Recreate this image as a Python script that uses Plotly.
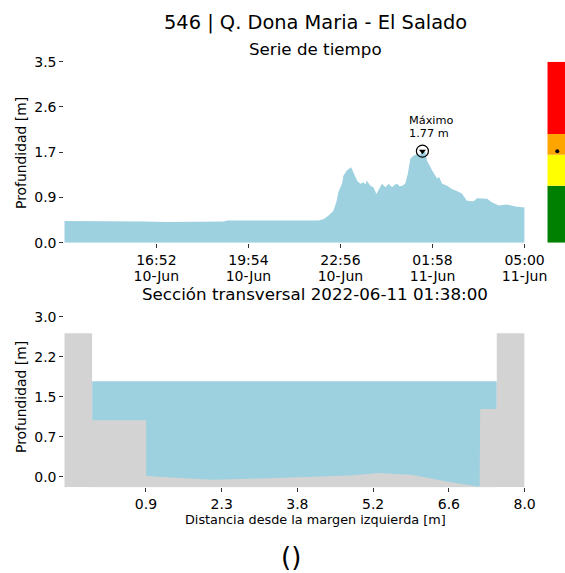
import plotly.graph_objects as go

W, H = 565, 573

# ---------------- data ----------------
times = [
    "2022-06-10 13:50", "2022-06-10 14:30", "2022-06-10 15:10", "2022-06-10 15:50",
    "2022-06-10 16:30", "2022-06-10 17:10", "2022-06-10 17:50", "2022-06-10 18:30",
    "2022-06-10 19:05", "2022-06-10 19:12", "2022-06-10 19:40", "2022-06-10 20:20",
    "2022-06-10 21:00", "2022-06-10 21:40", "2022-06-10 22:05", "2022-06-10 22:13",
    "2022-06-10 22:23", "2022-06-10 22:32", "2022-06-10 22:42", "2022-06-10 22:48",
    "2022-06-10 22:52", "2022-06-10 22:59", "2022-06-10 23:02", "2022-06-10 23:09",
    "2022-06-10 23:17", "2022-06-10 23:22", "2022-06-10 23:29", "2022-06-10 23:35",
    "2022-06-10 23:42", "2022-06-10 23:45", "2022-06-10 23:48", "2022-06-10 23:55",
    "2022-06-11 00:01", "2022-06-11 00:07", "2022-06-11 00:11", "2022-06-11 00:18",
    "2022-06-11 00:25", "2022-06-11 00:31", "2022-06-11 00:38", "2022-06-11 00:43",
    "2022-06-11 00:48", "2022-06-11 00:53", "2022-06-11 00:58", "2022-06-11 01:04",
    "2022-06-11 01:09", "2022-06-11 01:14", "2022-06-11 01:20", "2022-06-11 01:27",
    "2022-06-11 01:33", "2022-06-11 01:38", "2022-06-11 01:44", "2022-06-11 01:47",
    "2022-06-11 01:57", "2022-06-11 02:07", "2022-06-11 02:11", "2022-06-11 02:17",
    "2022-06-11 02:27", "2022-06-11 02:36", "2022-06-11 02:46", "2022-06-11 02:56",
    "2022-06-11 03:06", "2022-06-11 03:19", "2022-06-11 03:26", "2022-06-11 03:32",
    "2022-06-11 03:46", "2022-06-11 03:55", "2022-06-11 04:09", "2022-06-11 04:25",
    "2022-06-11 04:42", "2022-06-11 05:00",
]
depth = [
    0.42, 0.42, 0.42, 0.41,
    0.41, 0.40, 0.40, 0.40,
    0.41, 0.43, 0.43, 0.43,
    0.42, 0.42, 0.42, 0.43,
    0.46, 0.52, 0.62, 0.79,
    0.98, 1.14, 1.30, 1.40,
    1.46, 1.36, 1.20, 1.14,
    1.17, 1.12, 1.20, 1.10,
    1.07, 0.94, 1.01, 1.14,
    1.07, 1.14, 1.07, 1.12,
    1.14, 1.09, 1.10, 1.14,
    1.33, 1.62, 1.68, 1.71,
    1.70, 1.77, 1.75, 1.59,
    1.40, 1.24, 1.27, 1.14,
    1.10, 1.04, 1.00, 0.95,
    0.81, 0.80, 0.86, 0.86,
    0.85, 0.78, 0.72, 0.74,
    0.70, 0.68,
]

series_ticks = ["2022-06-10 16:52", "2022-06-10 19:54", "2022-06-10 22:56",
                "2022-06-11 01:58", "2022-06-11 05:00"]
series_tick_hours = ["16:52", "19:54", "22:56", "01:58", "05:00"]
series_tick_days = ["10-Jun", "10-Jun", "10-Jun", "11-Jun", "11-Jun"]
depth_ticks = [0.0, 0.875, 1.75, 2.625, 3.5]
depth_tick_labels = ["0.0", "0.9", "1.7", "2.6", "3.5"]

alert_bounds = [0.0, 1.10, 1.70, 2.10, 3.5]
alert_colors = ["#008000", "#ffff00", "#ffa500", "#ff0000"]

section_x = [-0.6, -0.08, -0.08, 0.93, 0.93, 1.47, 2.18, 2.87, 3.80, 4.73,
             5.29, 5.91, 6.54, 7.16, 7.17, 7.48, 7.48, 8.0]
section_z = [2.69, 2.69, 1.06, 1.06, 0.01, -0.02, -0.06, -0.04, -0.01, 0.02,
             0.07, 0.03, -0.09, -0.19, 1.27, 1.27, 2.69, 2.69]
section_floor = -0.2
water_level = 1.79
section_ticks = [0.925, 2.34, 3.755, 5.17, 6.585, 8.0]
section_tick_labels = ["0.9", "2.3", "3.8", "5.2", "6.6", "8.0"]
section_depth_ticks = [0.0, 0.75, 1.5, 2.25, 3.0]
section_depth_labels = ["0.0", "0.7", "1.5", "2.2", "3.0"]

station_title = "546 | Q. Dona Maria - El Salado"
section_time = "2022-06-11 01:38:00"

# ---------------- helpers ----------------
def px(x):
    return x / W

def py(y):
    return 1 - y / H

FONT = "DejaVu Sans"
WATER = "#9ed1e0"
GROUND = "#d3d3d3"

imax = max(range(len(depth)), key=lambda i: depth[i])
peak_t, peak_v = times[imax], depth[imax]

fig = go.Figure()

# time series
fig.add_trace(go.Scatter(x=times, y=depth, mode="lines", fill="tozeroy",
                         fillcolor=WATER, line=dict(width=0, color=WATER),
                         xaxis="x", yaxis="y", hoverinfo="skip"))
fig.add_trace(go.Scatter(x=[peak_t], y=[peak_v], mode="markers",
                         marker=dict(symbol="circle-open", size=12,
                                     line=dict(width=1.2, color="black"), color="black"),
                         xaxis="x", yaxis="y", hoverinfo="skip"))
fig.add_trace(go.Scatter(x=[peak_t], y=[peak_v], mode="markers",
                         marker=dict(symbol="triangle-down", size=6, color="black"),
                         xaxis="x", yaxis="y", hoverinfo="skip"))
# invisible trace to carry the day-label axis
fig.add_trace(go.Scatter(x=[times[0], times[-1]], y=[0, 0], mode="none",
                         xaxis="x4", yaxis="y", hoverinfo="skip"))

# alert bar
fig.add_trace(go.Bar(x=[0.5] * 4,
                     y=[alert_bounds[i + 1] - alert_bounds[i] for i in range(4)],
                     base=alert_bounds[:4], width=1,
                     marker=dict(color=alert_colors, line=dict(width=0)),
                     xaxis="x3", yaxis="y", hoverinfo="skip"))
fig.add_trace(go.Scatter(x=[0.5], y=[peak_v], mode="markers",
                         marker=dict(size=4, color="black"),
                         xaxis="x3", yaxis="y", hoverinfo="skip"))

# cross section
wl, wr = section_x[1], section_x[-3]
fig.add_trace(go.Scatter(x=[wl, wr], y=[section_floor, section_floor], mode="lines",
                         line=dict(width=0), xaxis="x2", yaxis="y2", hoverinfo="skip"))
fig.add_trace(go.Scatter(x=[wl, wr], y=[water_level, water_level], mode="lines",
                         fill="tonexty", fillcolor=WATER, line=dict(width=0),
                         xaxis="x2", yaxis="y2", hoverinfo="skip"))
fig.add_trace(go.Scatter(x=[section_x[0]] + section_x + [section_x[-1]],
                         y=[section_floor] + section_z + [section_floor],
                         mode="lines", fill="toself", fillcolor=GROUND,
                         line=dict(width=0), xaxis="x2", yaxis="y2", hoverinfo="skip"))

axis_common = dict(showgrid=False, zeroline=False, showline=False, ticks="outside",
                   ticklen=4, tickwidth=1, tickcolor="#333333", automargin=False,
                   tickfont=dict(family=FONT, size=14, color="black"))

x_dom = [px(64.3), px(524.6)]
fig.update_layout(
    template="none",
    width=W, height=H, autosize=False,
    margin=dict(l=0, r=0, t=0, b=0, pad=0, autoexpand=False),
    paper_bgcolor="white", plot_bgcolor="white", showlegend=False,
    barmode="overlay", hovermode=False,
    font=dict(family=FONT, color="black"),
    xaxis=dict(domain=x_dom, type="date", range=[times[0], times[-1]],
               tickvals=series_ticks, ticktext=series_tick_hours,
               anchor="y", **axis_common),
    xaxis4=dict(domain=x_dom, type="date", range=[times[0], times[-1]],
                tickvals=series_ticks, ticktext=series_tick_days,
                overlaying="x", anchor="y", side="bottom",
                showgrid=False, zeroline=False, showline=False, ticks="",
                ticklabelstandoff=23, automargin=False,
                tickfont=dict(family=FONT, size=14, color="black")),
    yaxis=dict(domain=[py(242.7), py(61.7)], range=[0, 3.5],
               tickvals=depth_ticks, ticktext=depth_tick_labels,
               anchor="x", **axis_common),
    xaxis3=dict(domain=[px(547.3), 1.0], range=[0, 0.885], visible=False,
                anchor="y", automargin=False),
    xaxis2=dict(domain=x_dom, range=[-0.6, 8.0],
                tickvals=section_ticks, ticktext=section_tick_labels,
                anchor="y2", **axis_common),
    yaxis2=dict(domain=[py(487.3), py(316.7)], range=[section_floor, 3.0],
                tickvals=section_depth_ticks, ticktext=section_depth_labels,
                anchor="x2", **axis_common),
)

def note(text, x, y, size, angle=0, xanchor="center"):
    fig.add_annotation(text=text, x=px(x), y=py(y), xref="paper", yref="paper",
                       showarrow=False, xanchor=xanchor, yanchor="middle",
                       textangle=angle, font=dict(family=FONT, size=size, color="black"))

note(station_title, 315, 23, 19.4)
note("Serie de tiempo", 315, 49, 16.7)
note(f"Sección transversal {section_time}", 315, 294, 16.7)
note("Distancia desde la margen izquierda [m]", 315, 519, 12.8)
note("Profundidad [m]", 21, 153, 13.9, angle=-90)
note("Profundidad [m]", 21, 397, 13.9, angle=-90)
note("()", 291, 557, 26)

# peak labels
fig.add_annotation(text="Máximo", x=peak_t, y=peak_v, xref="x", yref="y",
                   showarrow=False, xanchor="left", yanchor="middle",
                   xshift=-15.5, yshift=31, font=dict(family=FONT, size=11.3, color="black"))
fig.add_annotation(text=f"{peak_v:.2f} m", x=peak_t, y=peak_v, xref="x", yref="y",
                   showarrow=False, xanchor="left", yanchor="middle",
                   xshift=-15.5, yshift=18, font=dict(family=FONT, size=11.3, color="black"))

fig.write_html(
    "out.html",
    config={"displayModeBar": False, "responsive": False},
    post_script="document.documentElement.style.margin='0';"
                "document.documentElement.style.overflow='hidden';"
                "document.body.style.margin='0';document.body.style.padding='0';"
                "document.body.style.overflow='hidden';",
)
